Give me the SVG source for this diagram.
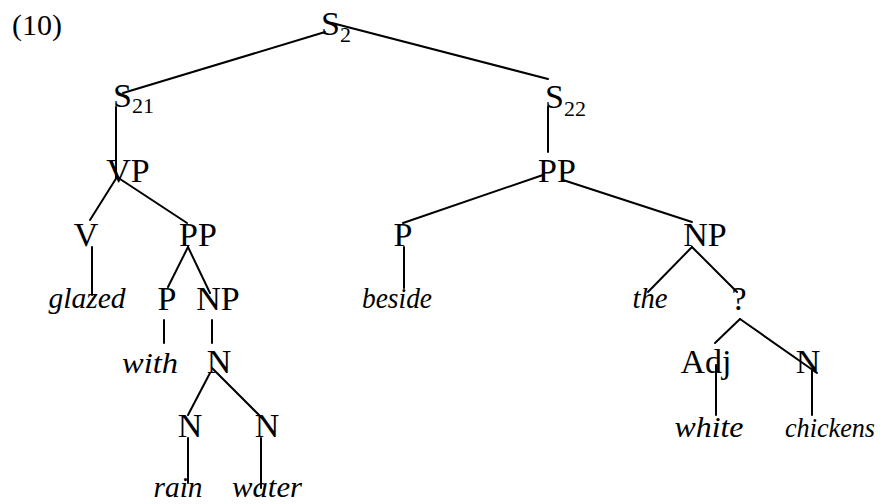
<svg xmlns="http://www.w3.org/2000/svg" width="884" height="504" viewBox="0 0 884 504">
  <style>
    text { font-family: 'Liberation Serif', 'Times New Roman', Tinos, 'DejaVu Serif', 'Noto Serif', serif; fill: #000; }
    .lbl { font-size: 34px; text-anchor: middle; }
    .sub { font-size: 22px; }
    .word { font-size: 30px; font-style: italic; text-anchor: middle; }
    .num { font-size: 30px; }
    .edges line { stroke: #000; stroke-width: 2; stroke-linecap: round; }
  </style>
  <rect width="884" height="504" fill="#fff"/>

  <text class="num" x="12" y="35">(10)</text>

  <!-- tree branches -->
  <g id="edges" class="edges">
    <line x1="325" y1="32" x2="123" y2="93"/>
    <line x1="332" y1="23" x2="548" y2="79"/>
    <line x1="116" y1="107" x2="116" y2="178"/>
    <line x1="117" y1="177" x2="90" y2="220"/>
    <line x1="117" y1="177" x2="187" y2="223"/>
    <line x1="92" y1="247" x2="92" y2="295"/>
    <line x1="188" y1="247" x2="168" y2="287"/>
    <line x1="188" y1="247" x2="210" y2="293"/>
    <line x1="164" y1="320" x2="164" y2="343"/>
    <line x1="212" y1="320" x2="212" y2="343"/>
    <line x1="210" y1="373" x2="188" y2="415"/>
    <line x1="212" y1="368" x2="262" y2="418"/>
    <line x1="188" y1="438" x2="188" y2="483"/>
    <line x1="261" y1="438" x2="261" y2="488"/>
    <line x1="548" y1="107" x2="548" y2="152"/>
    <line x1="543" y1="175" x2="403" y2="223"/>
    <line x1="563" y1="180" x2="692" y2="222"/>
    <line x1="404" y1="247" x2="404" y2="288"/>
    <line x1="692" y1="247" x2="648" y2="292"/>
    <line x1="692" y1="247" x2="737" y2="292"/>
    <line x1="740" y1="319" x2="715" y2="343"/>
    <line x1="740" y1="319" x2="817" y2="373"/>
    <line x1="716" y1="365" x2="716" y2="415"/>
    <line x1="812" y1="369" x2="812" y2="415"/>
  </g>

  <g id="S2"><text class="lbl" x="321" y="35" style="text-anchor:start">S<tspan class="sub" dy="7">2</tspan></text></g>
  <g id="S21"><text class="lbl" x="113" y="107" style="text-anchor:start">S<tspan class="sub" dy="6">21</tspan></text></g>
  <g id="S22"><text class="lbl" x="545" y="108" style="text-anchor:start">S<tspan class="sub" dy="8">22</tspan></text></g>

  <g id="VP"><text class="lbl" x="128" y="182">VP</text></g>
  <g id="V"><text class="lbl" x="86" y="246">V</text></g>
  <g id="PP1"><text class="lbl" x="198" y="246">PP</text></g>
  <g id="glazed"><text class="word" x="87" y="308" textLength="77" lengthAdjust="spacingAndGlyphs">glazed</text></g>
  <g id="P1"><text class="lbl" x="167" y="310">P</text></g>
  <g id="NP1"><text class="lbl" x="218" y="310">NP</text></g>
  <g id="with"><text class="word" x="150" y="373" textLength="56" lengthAdjust="spacingAndGlyphs">with</text></g>
  <g id="N1"><text class="lbl" x="219" y="373">N</text></g>
  <g id="N2"><text class="lbl" x="190" y="437">N</text></g>
  <g id="N3"><text class="lbl" x="267" y="437">N</text></g>
  <g id="rain"><text class="word" x="178" y="497" textLength="49" lengthAdjust="spacingAndGlyphs">rain</text></g>
  <g id="water"><text class="word" x="267" y="497" textLength="70" lengthAdjust="spacingAndGlyphs">water</text></g>

  <g id="PP2"><text class="lbl" x="557" y="182">PP</text></g>
  <g id="P2"><text class="lbl" x="403" y="246">P</text></g>
  <g id="beside"><text class="word" x="397" y="308" textLength="70" lengthAdjust="spacingAndGlyphs">beside</text></g>
  <g id="NP2"><text class="lbl" x="705" y="246">NP</text></g>
  <g id="the"><text class="word" x="650" y="308" textLength="35" lengthAdjust="spacingAndGlyphs">the</text></g>
  <g id="Q"><text class="lbl" x="739" y="310">?</text></g>
  <g id="Adj"><text class="lbl" x="706" y="373">Adj</text></g>
  <g id="N4"><text class="lbl" x="808" y="373">N</text></g>
  <g id="white"><text class="word" x="709" y="437" textLength="69" lengthAdjust="spacingAndGlyphs">white</text></g>
  <g id="chickens"><text class="word" x="830" y="437" style="font-size:28px" textLength="90" lengthAdjust="spacingAndGlyphs">chickens</text></g>
</svg>
